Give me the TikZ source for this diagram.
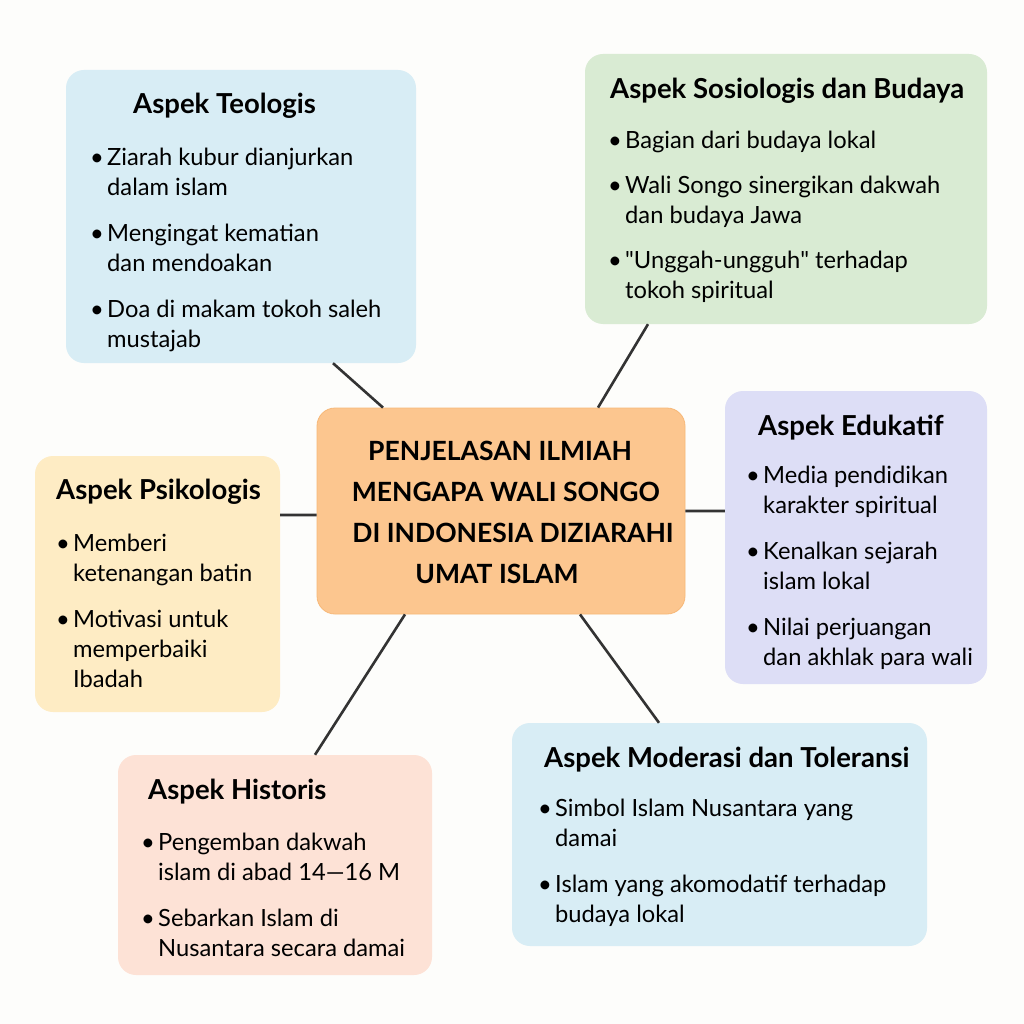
\documentclass[tikz,border=0pt]{standalone}
\usepackage{fontspec}
\setmainfont{Lato}
\usepackage{tikz}
\definecolor{latar}{RGB}{253,253,251}
\definecolor{biru}{RGB}{216,237,245}
\definecolor{hijau}{RGB}{217,235,211}
\definecolor{ungu}{RGB}{221,222,246}
\definecolor{kuning}{RGB}{254,236,196}
\definecolor{merah}{RGB}{253,226,214}
\definecolor{oranye}{RGB}{252,198,143}
\definecolor{tepi}{RGB}{247,184,120}
\definecolor{garis}{RGB}{51,51,51}
\newcommand{\bt}{\makebox[17pt][l]{\textbullet}}
\newcommand{\daftar}[1]{\begin{tabular}[t]{@{}l@{}l@{}}#1\end{tabular}}
\newcommand{\jeda}{\\[16pt]}

\begin{document}
\begin{tikzpicture}[x=1pt,y=-1pt,
                    kotak/.style={rectangle,rounded corners=18pt,inner sep=0pt},
                    judul/.style={anchor=base west,inner sep=0pt,
                                  font=\fontsize{27.5}{30}\selectfont\bfseries},
                    isi/.style={anchor=base west,inner sep=0pt,
                                font=\fontsize{23.7}{30}\selectfont},
                    hubung/.style={draw=garis,line width=2.6pt}]
                \fill[latar] (0,0) rectangle (1024,1024);
                \node [kotak,fill=oranye,draw=tepi,line width=0.8pt,minimum width=368pt,minimum height=206pt] (pusat) at (501,511) {};
                \node [kotak,fill=biru,minimum width=350pt,minimum height=293pt]   (teo) at (241,216.5) {};
                \node [kotak,fill=hijau,minimum width=402pt,minimum height=270pt]  (sos) at (786,189) {};
                \node [kotak,fill=ungu,minimum width=262pt,minimum height=293pt]   (edu) at (856,537.5) {};
                \node [kotak,fill=kuning,minimum width=245pt,minimum height=256pt] (psi) at (157.5,584) {};
                \node [kotak,fill=merah,minimum width=314pt,minimum height=220pt]  (his) at (275,865) {};
                \node [kotak,fill=biru,minimum width=415pt,minimum height=223pt]   (mod) at (719.5,834.5) {};

                \node [anchor=base,inner sep=0pt,font=\fontsize{26.5}{41}\selectfont\bfseries] (pusat-t) at (504,460)
                      {\begin{tabular}[t]{@{}c@{}}PENJELASAN ILMIAH\hspace*{8pt}\\\hspace*{4pt}MENGAPA WALI SONGO\\
                       \hspace*{18pt}DI INDONESIA DIZIARAHI\\UMAT ISLAM\hspace*{14pt}\end{tabular}};

                \node [judul] (teo-t) at (133,114) {Aspek Teologis};
                \node [isi]   (teo-i) at (90,166) {\daftar{\bt & Ziarah kubur dianjurkan\\ & dalam islam\jeda
                                                           \bt & Mengingat kematian\\ & dan mendoakan\jeda
                                                           \bt & Doa di makam tokoh saleh\\ & mustajab}};
                \node [judul] (sos-t) at (610,99) {Aspek Sosiologis dan Budaya};
                \node [isi]   (sos-i) at (608,149) {\daftar{\bt & Bagian dari budaya lokal\\[15pt]
                                                            \bt & Wali Songo sinergikan dakwah\\ & dan budaya Jawa\\[15pt]
                                                            \bt & \textquotedbl Unggah-ungguh\textquotedbl{} terhadap\\ & tokoh spiritual}};
                \node [judul] (edu-t) at (758,435) {Aspek Edukatif};
                \node [isi]   (edu-i) at (746,483) {\daftar{\bt & Media pendidikan\\ & karakter spiritual\jeda
                                                            \bt & Kenalkan sejarah\\ & islam lokal\jeda
                                                            \bt & Nilai perjuangan\\ & dan akhlak para wali}};
                \node [judul] (psi-t) at (56,499) {Aspek Psikologis};
                \node [isi]   (psi-i) at (56,551) {\daftar{\bt & Memberi\\ & ketenangan batin\jeda
                                                           \bt & Motivasi untuk\\ & memperbaiki\\ & Ibadah}};
                \node [judul] (his-t) at (148,799) {Aspek Historis};
                \node [isi]   (his-i) at (141,850) {\daftar{\bt & Pengemban dakwah\\ & islam di abad 14—16 M\jeda
                                                            \bt & Sebarkan Islam di\\ & Nusantara secara damai}};
                \node [judul] (mod-t) at (544,767) {Aspek Moderasi dan Toleransi};
                \node [isi]   (mod-i) at (538,816) {\daftar{\bt & Simbol Islam Nusantara yang\\ & damai\jeda
                                                            \bt & Islam yang akomodatif terhadap\\ & budaya lokal}};

                \path [hubung] (teo.south -| 333,0) -- (pusat.north -| 383,0)
                               (sos.south -| 648,0) -- (pusat.north -| 598,0)
                               (pusat.east) -- (edu.west |- pusat.east)
                               (psi.east |- 0,515) -- (pusat.west |- 0,515)
                               (pusat.south -| 405,0) -- (his.north -| 315,0)
                               (pusat.south -| 580,0) -- (mod.north -| 659,0);
\end{tikzpicture}
\end{document}
